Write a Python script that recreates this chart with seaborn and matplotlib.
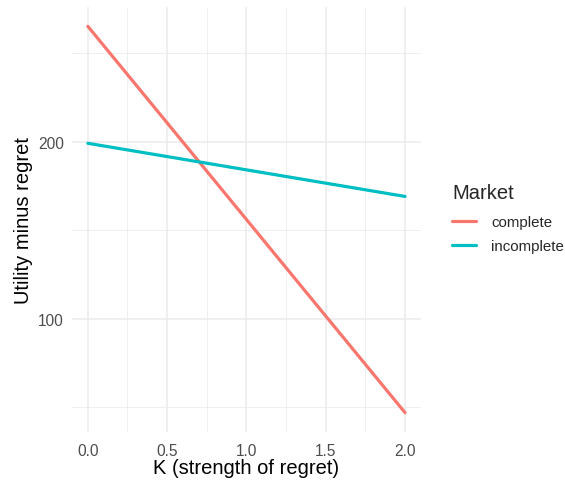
import pandas as pd
import matplotlib.pyplot as plt
import seaborn as sns

# values
k_values = [0.0, 1.0, 2.0]
complete = [265, 156, 47]
incomplete = [199, 184, 169]
markets = ['complete', 'incomplete']
palette = {'complete': '#F8766D', 'incomplete': '#00BFC4'}

df = pd.DataFrame({
    'K': k_values * 2,
    'value': complete + incomplete,
    'Market': [markets[0]] * len(k_values) + [markets[1]] * len(k_values),
})

sns.set_style('white')
plt.rcParams['font.family'] = ['Liberation Sans', 'DejaVu Sans']

fig = plt.figure(figsize=(5.65, 4.81), dpi=100)
ax = fig.add_axes([0.1274, 0.0998, 0.6176, 0.8836])

sns.lineplot(data=df, x='K', y='value', hue='Market', palette=palette,
             linewidth=2.3, ax=ax, legend=False)

ax.set_xlim(-0.1, 2.1)
ax.set_ylim(36.1, 275.9)
ax.set_xticks([0.0, 0.5, 1.0, 1.5, 2.0])
ax.set_xticklabels(['0.0', '0.5', '1.0', '1.5', '2.0'])
ax.set_yticks([100, 200])
ax.set_xticks([0.25, 0.75, 1.25, 1.75], minor=True)
ax.set_yticks([50, 150, 250], minor=True)

ax.grid(which='major', color='#EBEBEB', linewidth=1.1)
ax.grid(which='minor', color='#EBEBEB', linewidth=0.55)
ax.set_axisbelow(True)
for s in ax.spines.values():
    s.set_visible(False)
ax.tick_params(which='both', length=0, labelsize=11.2, colors='#4D4D4D')
ax.tick_params(axis='x', pad=8)
ax.tick_params(axis='y', pad=6)

ax.set_xlabel('K (strength of regret)', fontsize=14.5, color='black', labelpad=0)
ax.set_ylabel('Utility minus regret', fontsize=14.5, color='black', labelpad=3.5)

handles = [plt.Line2D([], [], color=palette[m], linewidth=2.3) for m in markets]
leg = fig.legend(handles, markets, title='Market', loc='upper left',
                 bbox_to_anchor=(0.776, 0.645), frameon=False, fontsize=10.8,
                 title_fontsize=14.5, handlelength=1.6, handletextpad=1.0,
                 labelspacing=0.66)
leg._legend_box.align = 'left'
leg._legend_box.sep = 9.5

fig.savefig('out.png', dpi=100)
